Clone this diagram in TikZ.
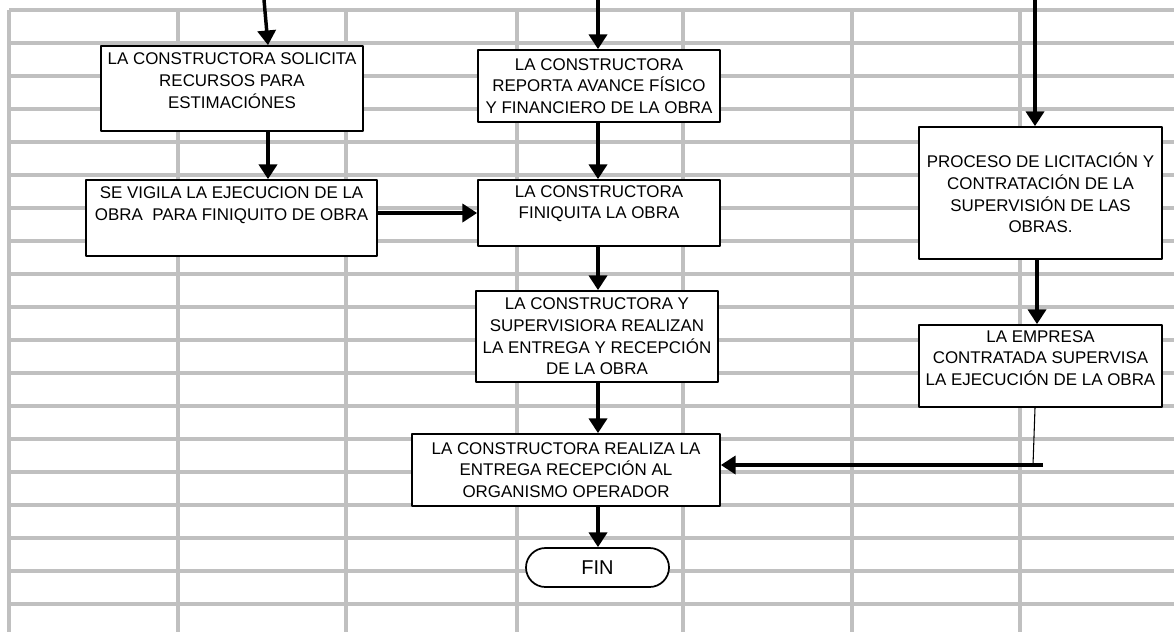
\documentclass[tikz,border=0pt]{standalone}
\usepackage{fontspec}
\setmainfont{Liberation Sans}
\usetikzlibrary{arrows.meta}
\definecolor{gris}{HTML}{C0C0C0}

\begin{document}
\begin{tikzpicture}[x=0.75pt, y=-0.75pt, font=\fontsize{12.7}{16.3}\selectfont, line join=round,
  caja/.style={draw, line width=1.3pt, fill=white, align=center, inner sep=0pt},
  tam/.style 2 args={minimum width=#1*0.75pt, minimum height=#2*0.75pt},
  flecha/.style={line width=2.6pt, -{Triangle[length=11pt,width=13.5pt]}},
  rejilla/.style={gris, line width=3pt}]
\useasboundingbox (0,0) rectangle (1174,632);
% hoja de calculo
\foreach \k in {0,...,18} \draw[rejilla] (9,{10+33*\k}) -- (1174,{10+33*\k});
\foreach \x in {9,178,346,517,683,852,1020} \draw[rejilla] (\x,10) -- (\x,632);
% columnas de las flechas
\coordinate (ta) at (264,0); \coordinate (xa) at (268,0);
\coordinate (xb) at (598,0);
\coordinate (tc) at (1035,0); \coordinate (xc) at (1037,0);
\coordinate (e1) at (1033,465); \coordinate (e2) at (1043,465);
% cajas
\node[caja, tam={262}{85}] (solicita) at (232,88.5) {LA CONSTRUCTORA SOLICITA\\RECURSOS PARA\\ESTIMACIÓNES\\[-4.3pt]~};
\node[caja, tam={291}{76}] (vigila) at (231.5,218) {SE VIGILA LA EJECUCION DE LA\\OBRA \ PARA FINIQUITO DE OBRA\\[5.5pt]~};
\node[caja, tam={242}{72}] (reporta) at (599,86) {LA CONSTRUCTORA\\REPORTA AVANCE FÍSICO\\Y FINANCIERO DE LA OBRA};
\node[caja, tam={242}{66}] (finiquita) at (599,213) {LA CONSTRUCTORA\\FINIQUITA LA OBRA\\~};
\node[caja, tam={242}{91}] (entrega) at (597,336.5) {LA CONSTRUCTORA Y\\SUPERVISIORA REALIZAN\\LA ENTREGA Y RECEPCIÓN\\DE LA OBRA};
\node[caja, tam={308}{72}] (realiza) at (566,470) {LA CONSTRUCTORA REALIZA LA\\ENTREGA RECEPCIÓN AL\\ORGANISMO OPERADOR};
\node[caja, tam={243}{132}] (licita) at (1040.5,193) {PROCESO DE LICITACIÓN Y\\CONTRATACIÓN DE LA\\SUPERVISIÓN DE LAS\\OBRAS.};
\node[caja, tam={243}{82}] (supervisa) at (1040.5,366) {LA EMPRESA\\CONTRATADA SUPERVISA\\LA EJECUCIÓN DE LA OBRA\\[-4.3pt]~};
\node[caja, tam={143}{39}, rounded corners=14.6pt, font=\fontsize{15}{18}\selectfont] (fin) at (597.5,567.5) {FIN};
% flechas
\draw[flecha] (ta) -- (solicita.north -| xa);
\draw[flecha] (solicita.south -| xa) -- (vigila.north -| xa);
\draw[flecha] (vigila.east |- finiquita.west) -- (finiquita.west);
\draw[flecha] (xb) -- (reporta.north -| xb);
\draw[flecha] (reporta.south -| xb) -- (finiquita.north -| xb);
\draw[flecha] (finiquita.south -| xb) -- (entrega.north -| xb);
\draw[flecha] (entrega.south -| xb) -- (realiza.north -| xb);
\draw[flecha] (realiza.south -| xb) -- (fin.north -| xb);
\draw[flecha] (tc) -- (licita.north -| tc);
\draw[flecha] (licita.south -| xc) -- (supervisa.north -| xc);
\draw[line width=0.8pt] (supervisa.south -| tc) -- (e1);
\draw[flecha] (e2) -- (e2 -| realiza.east);
\end{tikzpicture}
\end{document}
